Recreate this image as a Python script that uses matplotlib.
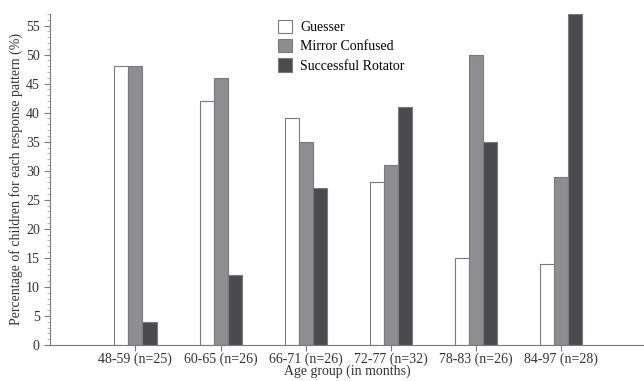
import numpy as np
import matplotlib.pyplot as plt
from matplotlib.ticker import MultipleLocator

# age groups and percentages per response pattern
groups = ["48-59 (n=25)", "60-65 (n=26)", "66-71 (n=26)", "72-77 (n=32)", "78-83 (n=26)", "84-97 (n=28)"]
guesser = [48, 42, 39, 28, 15, 14]
mirror_confused = [48, 46, 35, 31, 50, 29]
successful_rotator = [4, 12, 27, 41, 35, 57]

plt.rcParams['font.family'] = ['Liberation Serif', 'DejaVu Serif']

fig = plt.figure(figsize=(6.44, 3.81), dpi=100)
ax = fig.add_axes([0.078, 0.0945, 0.922, 0.869])

x = np.arange(len(groups))
w = 0.165
edge = '#7a7a7a'
ax.bar(x - w, guesser, w, color='white', edgecolor=edge, linewidth=0.8, label='Guesser')
ax.bar(x, mirror_confused, w, color='#8e8e91', edgecolor=edge, linewidth=0.8, label='Mirror Confused')
ax.bar(x + w, successful_rotator, w, color='#4b4b4e', edgecolor=edge, linewidth=0.8, label='Successful Rotator')

ax.set_xlim(-1.0, 5.97)
ax.set_ylim(0, 57)
ax.set_xticks(x)
ax.set_xticklabels(groups, fontsize=10, color='#333333')
ax.yaxis.set_major_locator(MultipleLocator(5))
ax.yaxis.set_minor_locator(MultipleLocator(1))
ax.tick_params(axis='y', labelsize=10, colors='#333333', length=4, color=edge)
ax.tick_params(axis='y', which='minor', length=2, color='#aaaaaa')
ax.tick_params(axis='x', length=4, color=edge, colors='#333333', pad=1.5)

for s in ['top', 'right']:
    ax.spines[s].set_visible(False)
for s in ['left', 'bottom']:
    ax.spines[s].set_color(edge)

ax.set_ylabel("Percentage of children for each response pattern (%)", fontsize=10, color='#333333', labelpad=2)
ax.set_xlabel("Age group (in months)", fontsize=10, color='#333333', labelpad=-1)

ax.legend(loc='upper center', bbox_to_anchor=(0.49, 1.02), frameon=False, fontsize=10,
          handlelength=1.0, handleheight=1.1, handletextpad=0.6, labelspacing=0.35)

plt.savefig("out.png", dpi=100)
